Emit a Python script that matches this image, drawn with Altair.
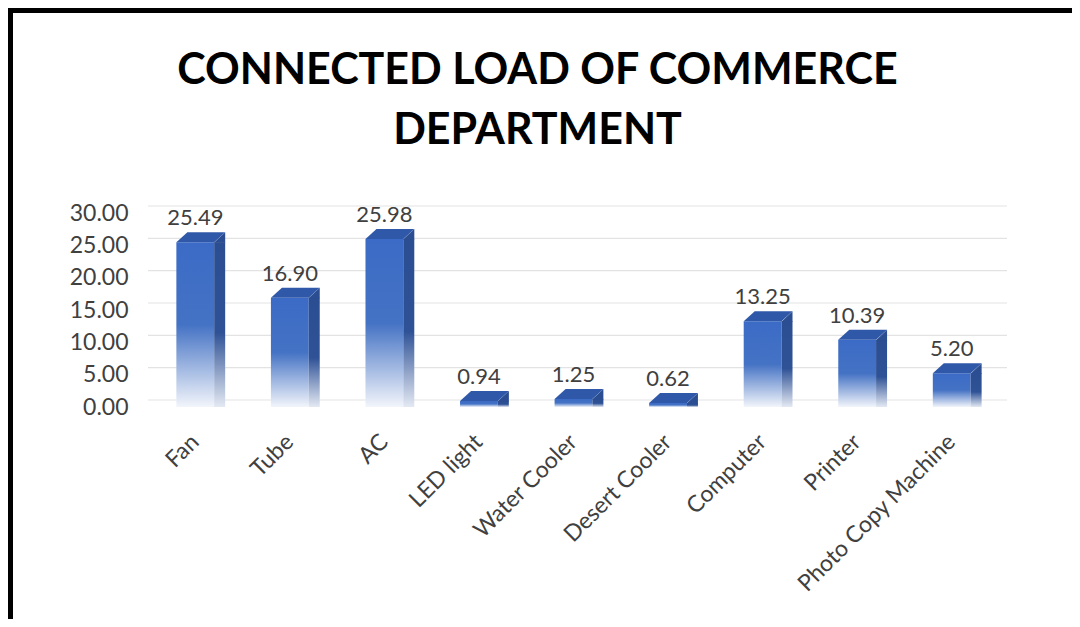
import altair as alt
import pandas as pd

CATEGORIES = ["Fan", "Tube", "AC", "LED light", "Water Cooler", "Desert Cooler",
              "Computer", "Printer", "Photo Copy Machine"]
LOADS = [25.49, 16.90, 25.98, 0.94, 1.25, 0.62, 13.25, 10.39, 5.20]
Y_TICKS = [0, 5, 10, 15, 20, 25, 30]
TITLE_LINES = ["CONNECTED LOAD OF COMMERCE", "DEPARTMENT"]

df = pd.DataFrame({"item": CATEGORIES, "load": LOADS})
grid_df = pd.DataFrame({"load": Y_TICKS})

W, H = 851, 194
PL, PT, PR, PB = 140, 205, 73, 212
FONT = "Lato"
TXT = "#404040"

xs = alt.Scale(domain=CATEGORIES, paddingInner=0.6, paddingOuter=0.3)
ys = alt.Scale(domain=[0, 30], nice=False)

X = alt.X("item:N", scale=xs, sort=CATEGORIES,
          axis=alt.Axis(title=None, labelAngle=-45, labelAlign="right", labelBaseline="middle",
                        labelPadding=31, domain=False, ticks=False, labelFontSize=23,
                        labelFont=FONT, labelColor=TXT, labelOverlap=False, labelLimit=0))
Y = alt.Y("load:Q", scale=ys,
          axis=alt.Axis(title=None, values=Y_TICKS, format=".2f", grid=False, domain=False,
                        ticks=False, labelFontSize=23, labelFont=FONT, labelColor=TXT,
                        labelPadding=20, labelFlush=False))

front_grad = alt.Gradient(gradient="linear", x1=0, x2=0, y1=0, y2=1, stops=[
    alt.GradientStop(color="#3b6bc6", offset=0),
    alt.GradientStop(color="#4472c4", offset=0.5),
    alt.GradientStop(color="#f2f5fb", offset=1)])
side_grad = alt.Gradient(gradient="linear", x1=0, x2=0, y1=0, y2=1, stops=[
    alt.GradientStop(color="#2b4d91", offset=0),
    alt.GradientStop(color="#2f5296", offset=0.55),
    alt.GradientStop(color="#e4e9f3", offset=1)])

TOP_PATH = "M -0.945 0 L 0.945 0 L 1.495 -0.5 L -0.395 -0.5 Z"
CAP_PATH = "M 0.93 0.03 L 1.495 -0.5 L 1.495 0.03 Z"

grid = alt.Chart(grid_df).mark_rule(color="#e3e3e3", strokeWidth=1.2, xOffset=8, yOffset=-7).encode(
    y=Y)

base = alt.Chart(df)
front = base.mark_bar(color=front_grad).encode(x=X, y=Y)
side = base.mark_bar(width=11, xOffset=24.4, color=side_grad).encode(x=X, y=Y)
cap = base.mark_point(shape=CAP_PATH, size=1600, filled=True, color="#2b4d91",
                      opacity=1, strokeWidth=0).encode(x=X, y=Y)
top = base.mark_point(shape=TOP_PATH, size=1600, filled=True, color="#2f59a8",
                      opacity=1, strokeWidth=0).encode(x=X, y=Y)
labels = base.mark_text(baseline="alphabetic", dy=-17, fontSize=22, font=FONT, color=TXT).encode(
    x=X, y=Y, text=alt.Text("load:Q", format=".2f"))

border_top = alt.Chart(grid_df).mark_rule(color="black", strokeWidth=5).encode(
    x=alt.value(-PL), x2=alt.value(W + PR), y=alt.value(-PT + 2.5))
border_left = alt.Chart(grid_df).mark_rule(color="black", strokeWidth=5).encode(
    x=alt.value(-PL + 2.5), y=alt.value(-PT), y2=alt.value(H + PB))

chart = alt.layer(grid, front, side, cap, top, labels, border_top, border_left).properties(
    width=W, height=H,
    padding={"left": PL, "top": PT, "right": PR, "bottom": PB},
    autosize=alt.AutoSizeParams(type="none"),
    title=alt.TitleParams(text=TITLE_LINES, fontSize=43, font=FONT, fontWeight="bold",
                          color="black", anchor="middle", frame="group", offset=-147,
                          lineHeight=60, dx=-36),
    background="white",
).configure_view(stroke=None)

chart.save("out.html", embed_options={"renderer": "svg", "actions": False})
